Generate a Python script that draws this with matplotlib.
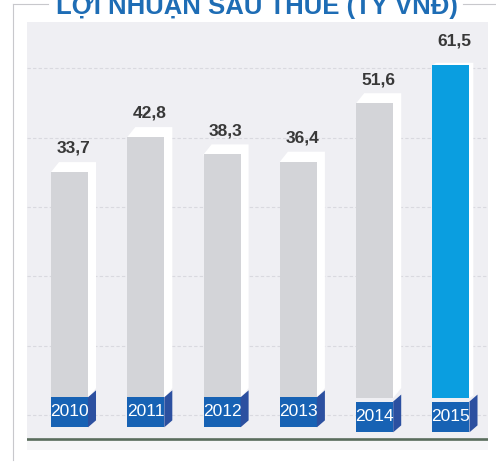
import numpy as np
import matplotlib
matplotlib.use("Agg")
from matplotlib import pyplot as plt
from matplotlib.lines import Line2D

plt.rcParams['font.family'] = ['Liberation Sans', 'DejaVu Sans']

# data
years = ['2010', '2011', '2012', '2013', '2014', '2015']
profit = [33.7, 42.8, 38.3, 36.4, 51.6, 61.5]
labels = ['33,7', '42,8', '38,3', '36,4', '51,6', '61,5']
highlight = [False, False, False, False, False, True]
title = 'LỢI NHUẬN SAU THUẾ (TỶ VNĐ)'

panel_c = '#efeff3'
gray_c = '#d3d4d8'
blue_c = '#0a9ee0'
box_c = '#1762b4'
side_c = '#2c50a0'

fig = plt.figure(figsize=(4.96, 4.63), dpi=100)
ax = fig.add_axes([27 / 496, 1 - 450 / 463, 461 / 496, 428 / 463])
ax.set_facecolor(panel_c)
ax.set_xlim(-0.557, 5.485)
ax.set_ylim(-38.5, 72.7)

# dashed grid (very faint)
grid_y = np.linspace(60.7, -29.4, 6)
for gy in grid_y:
    ax.axhline(gy, color='#d9d9df', lw=0.8, ls=(0, (3, 2)), zorder=0.5)

x = np.arange(len(years))
w = 0.485
base = -25.0
for i, (v, hl) in enumerate(zip(profit, highlight)):
    l, r = x[i] - w / 2, x[i] + w / 2
    dx, dy = (0.05, 0.6) if hl else (0.105, 2.6)
    # white 3d top + side
    ax.fill([l, l + dx, r + dx, r + dx, r], [v, v + dy, v + dy, base + dy, base],
            color='white', lw=0, zorder=1)
    ax.bar(x[i], v - base, bottom=base, width=w,
           color=blue_c if hl else gray_c, zorder=2)
    ax.text(x[i] + 0.05, v + 4.2, labels[i], ha='center', va='bottom',
            fontsize=12.5, fontweight='bold', color='#383838', zorder=4)

    # year box
    bt, bb = (-25.9, -33.9) if i >= 4 else (-24.8, -32.6)
    ax.bar(x[i], bt - bb, bottom=bb, width=w, color=box_c, zorder=3)
    ax.fill([r, r + 0.105, r + 0.105, r], [bt, bt + 1.8, bb + 1.8, bb],
            color=side_c, lw=0, zorder=3)
    ax.text(x[i], (bt + bb) / 2 + 0.2, years[i], ha='center', va='center',
            fontsize=12.5, color='white', zorder=4,
            family=['Liberation Sans Narrow', 'Liberation Sans', 'DejaVu Sans'])

# baseline and lighter strip below it
ax.axhspan(-38.5, -36.2, color='#f6f6f8', lw=0, zorder=0.6)
ax.axhline(-35.7, color='#5a6d5d', lw=1.9, zorder=3)

ax.set_xticks([])
ax.set_yticks([])
for s in ax.spines.values():
    s.set_visible(False)

# outer frame lines
fig.add_artist(Line2D([13 / 496, 13 / 496], [1 - 460 / 463, 1 - 4 / 463],
                      color='#c8c8cc', lw=0.8))
fig.add_artist(Line2D([13 / 496, 48 / 496], [1 - 4 / 463] * 2, color='#c8c8cc', lw=0.8))
fig.add_artist(Line2D([463 / 496, 1.0], [1 - 4 / 463] * 2, color='#c8c8cc', lw=0.8))

# title is partly above the top edge, as in the reference crop
fig.text(257 / 496, 1 - 14 / 463, title, ha='center', va='baseline',
         fontsize=18.5, fontweight='bold', color='#1e6db5')

fig.savefig('out.png', dpi=100, facecolor='white')
